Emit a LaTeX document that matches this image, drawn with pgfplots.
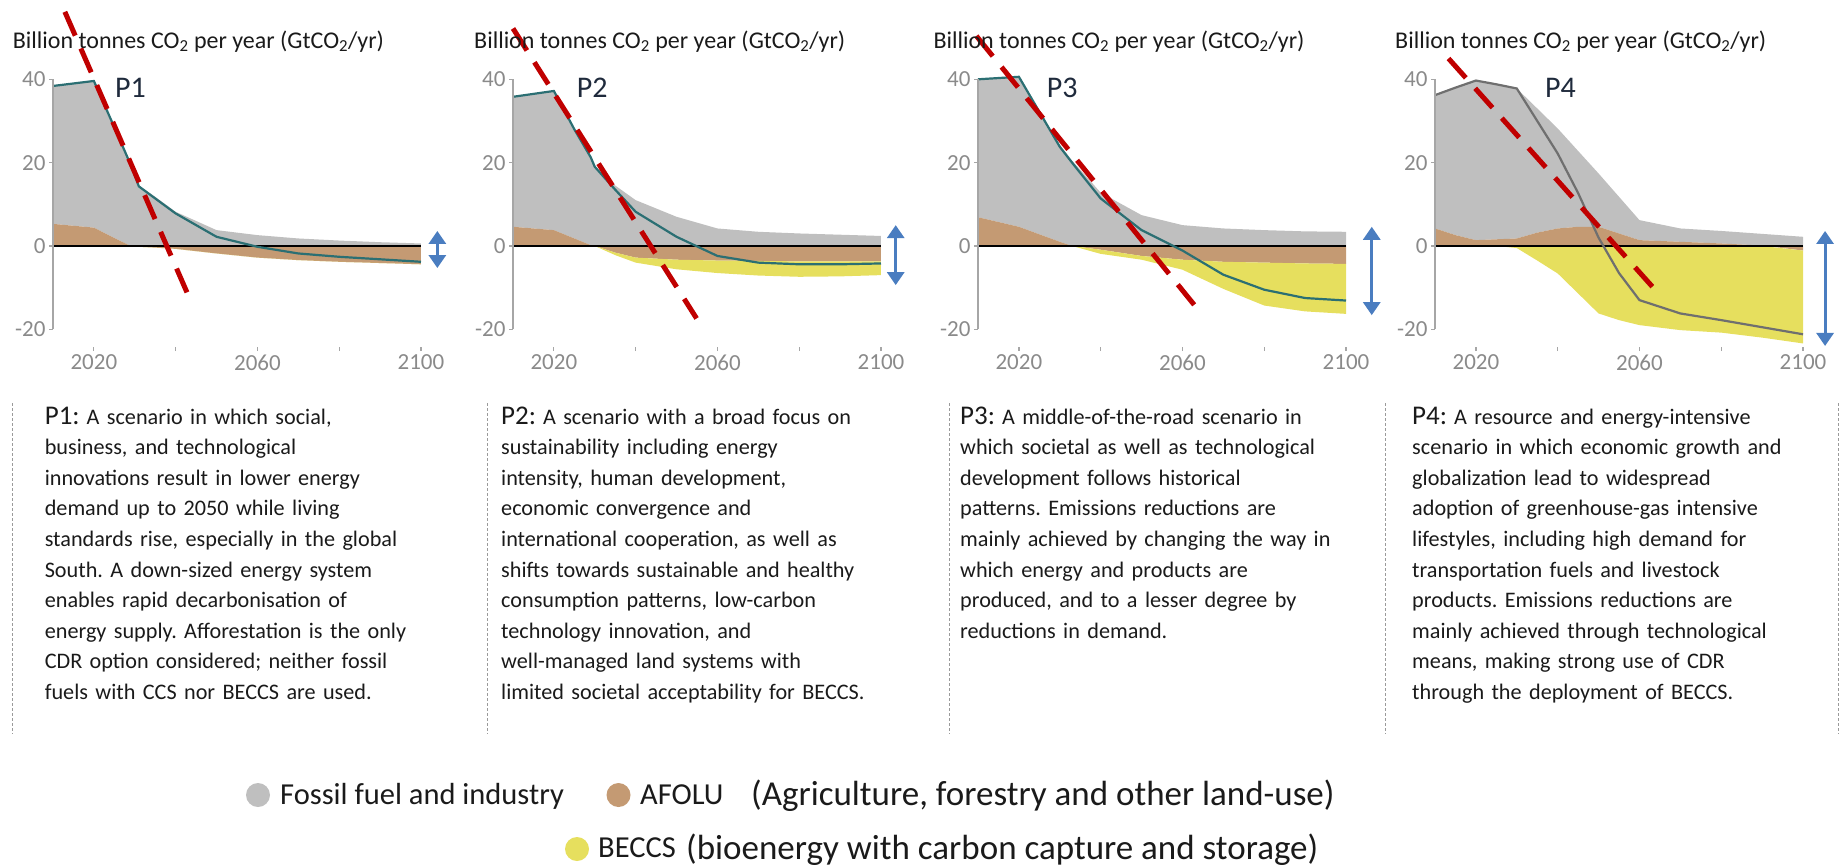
\documentclass[border=0pt]{standalone}
\usepackage{fontspec}
\setmainfont{Carlito}
\usepackage{pgfplots}
\pgfplotsset{compat=1.18}
\usepackage{pgfplotstable}
\usepgfplotslibrary{fillbetween}
\usetikzlibrary{arrows.meta}
\frenchspacing

\definecolor{cGray}{HTML}{BFBFBF}
\definecolor{cBrown}{HTML}{C49A73}
\definecolor{cYel}{HTML}{E6DF5E}
\definecolor{cTeal}{HTML}{2B6F73}
\definecolor{cNetGray}{HTML}{6F6F6F}
\definecolor{cRed}{HTML}{C00000}
\definecolor{cBlue}{HTML}{4A7DC0}
\definecolor{cTick}{HTML}{8A8A8A}
\definecolor{cAxis}{HTML}{A6A6A6}
\definecolor{cNavy}{HTML}{1F2A3C}
\definecolor{cText}{HTML}{1A1A1A}
\definecolor{cSep}{HTML}{9A9A9A}

% columns: year, top of grey area, AFOLU, bottom of BECCS, net emissions
\pgfplotstableread{
yr   top   af    bc    net
2010 38.4  5.3   0     38.4
2020 39.6  4.4   0     39.6
2025 28.5  1.9   0     28.5
2029 19.5  0     0     19.5
2031 14.5  -0.2  -0.2  14.3
2035 11.8  -0.4  -0.4  11.4
2040 8.2   -0.7  -0.7  7.8
2050 3.8   -1.8  -1.8  2.2
2060 2.6   -2.8  -2.8  -0.2
2070 1.8   -3.4  -3.4  -1.8
2080 1.3   -3.8  -3.8  -2.6
2090 0.9   -4.1  -4.1  -3.2
2100 0.6   -4.4  -4.4  -3.8
}\Pone

\pgfplotstableread{
yr   top   af    bc    net
2010 35.8  4.6   0     35.8
2020 37.2  3.8   0     37.2
2025 28.0  1.8   0     28.0
2029 21.5  0.2   0     21.3
2030 19.2  0     0     19.0
2035 14.5  -1.6  -2.2  13.5
2040 11.0  -2.8  -4.0  8.2
2050 7.0   -3.3  -5.6  2.2
2060 4.2   -3.5  -6.5  -2.4
2070 3.4   -3.6  -7.1  -4.0
2080 3.0   -3.7  -7.4  -4.4
2090 2.7   -3.7  -7.3  -4.4
2100 2.4   -3.7  -7.0  -4.2
}\Ptwo

\pgfplotstableread{
yr   top   af    bc     net
2010 40.0  6.9   0      40.0
2020 40.6  4.6   0      40.6
2025 32.5  2.8   0      32.2
2030 24.3  1.0   0      23.8
2033 20.5  0     0      20.0
2040 12.8  -0.9  -1.9   11.4
2050 7.4   -2.4  -3.3   3.8
2060 5.0   -3.3  -5.7   -1.1
2070 4.2   -3.8  -10.3  -6.9
2080 3.8   -4.0  -14.3  -10.5
2090 3.5   -4.2  -15.7  -12.5
2100 3.4   -4.3  -16.3  -13.1
}\Pthree

\pgfplotstableread{
yr   top   af    bc     net
2010 36.2  4.2   0      36.2
2015 38.0  2.6   0      38.0
2020 39.7  1.4   0      39.7
2025 38.8  1.6   0      38.8
2030 37.8  1.8   -0.5   37.8
2035 33.0  3.2   -3.5   30.0
2040 28.2  4.2   -6.6   22.2
2045 22.8  4.6   -11.4  12.7
2050 17.4  4.6   -16.2  2.0
2055 11.8  3.0   -17.8  -6.5
2060 6.2   1.4   -19.0  -13.0
2070 4.2   1.0   -20.2  -16.2
2080 3.6   0.6   -20.8  -17.8
2090 2.9   0.1   -22.0  -19.5
2100 2.2   -1.1  -23.4  -21.2
}\Pfour

\newcommand{\drawareas}[2]{%
 \addplot[draw=none, name path=T] table[x=yr,y=top]{#1};
 \addplot[draw=none, name path=L] table[x=yr,y expr={max(\thisrow{af},0)}]{#1};
 \addplot[draw=none, name path=A] table[x=yr,y=af]{#1};
 \addplot[draw=none, name path=M] table[x=yr,y expr={min(\thisrow{af},0)}]{#1};
 \addplot[draw=none, name path=B] table[x=yr,y=bc]{#1};
 \addplot[draw=none, name path=Z] table[x=yr,y expr=0]{#1};
 \addplot[fill=cGray, draw=none] fill between[of=T and L];
 \addplot[fill=cBrown, draw=none] fill between[of=A and Z];
 \addplot[fill=cYel, draw=none] fill between[of=M and B];
 \addplot[black, line width=1.5pt] table[x=yr,y expr=0]{#1};
 \addplot[#2, line width=2.2pt] table[x=yr,y=net]{#1};
 \draw[cAxis, line width=1.5pt] (axis cs:2010,-20) -- (axis cs:2010,40);
}

\pgfplotsset{panel/.style={
  scale only axis, width=368pt, height=267.9pt,
  xmin=2010, xmax=2100, ymin=-24.3, ymax=40,
  anchor=south west,
  axis lines*=left, axis line style={draw=none},
  clip=false,
  xtick={2020,2040,2060,2080,2100}, xticklabels={2020,,2060,,2100},
  ytick={-20,0,20,40},
  tick align=outside, major tick length=4pt,
  tick style={cAxis, line width=1.2pt},
  tick label style={font=\fontsize{23}{23}\selectfont, text=cTick},
  /pgf/number format/assume math mode=true,
}}
\tikzset{barrow/.style={cBlue, line width=3pt, {Triangle[width=17pt,length=13pt]}-{Triangle[width=17pt,length=13pt]}}}

\begin{document}
\begin{tikzpicture}

% ---------- P1
\begin{axis}[panel, at={(53pt,-347.2pt)}]
 \drawareas{\Pone}{cTeal}
 \addplot[cRed, line width=5pt, dash pattern=on 26pt off 14pt] coordinates {(2012.9,56.2) (2043.9,-13.7)};
 \draw[barrow] (axis cs:2104,3.6) -- (axis cs:2104,-5.3);
\end{axis}

% ---------- P2
\begin{axis}[panel, at={(513pt,-347.2pt)}]
 \drawareas{\Ptwo}{cTeal}
 \addplot[cRed, line width=5pt, dash pattern=on 26pt off 14pt] coordinates {(2010.0,52.2) (2054.9,-17.4)};
 \draw[barrow] (axis cs:2103.6,5.0) -- (axis cs:2103.6,-9.4);
\end{axis}

% ---------- P3
\begin{axis}[panel, at={(978pt,-347.2pt)}]
 \drawareas{\Pthree}{cTeal}
 \addplot[cRed, line width=5pt, dash pattern=on 26pt off 14pt] coordinates {(2009.6,50.4) (2064.5,-16.1)};
 \draw[barrow] (axis cs:2106.3,4.6) -- (axis cs:2106.3,-16.6);
\end{axis}

% ---------- P4
\begin{axis}[panel, at={(1435pt,-347.2pt)}]
 \drawareas{\Pfour}{cNetGray}
 \addplot[cRed, line width=5pt, dash pattern=on 26pt off 14pt] coordinates {(2013.3,45.0) (2065.0,-11.8)};
 \draw[barrow] (axis cs:2105.4,3.6) -- (axis cs:2105.4,-24);
\end{axis}

% ---------- titles
\foreach \xx in {12.7,474,933.3,1395}{
 \node[anchor=base west, inner sep=0, text=cText, font=\fontsize{24}{24}\selectfont] at (\xx pt,-48pt) {Billion tonnes CO\textsubscript{2} per year (GtCO\textsubscript{2}/yr)};
}
\node[anchor=base west, inner sep=0, text=cNavy, font=\fontsize{30}{30}\selectfont] at (115pt,-97pt) {P1};
\node[anchor=base west, inner sep=0, text=cNavy, font=\fontsize{30}{30}\selectfont] at (576.7pt,-97pt) {P2};
\node[anchor=base west, inner sep=0, text=cNavy, font=\fontsize{30}{30}\selectfont] at (1046.7pt,-97pt) {P3};
\node[anchor=base west, inner sep=0, text=cNavy, font=\fontsize{30}{30}\selectfont] at (1545pt,-97pt) {P4};

% ---------- separators
\foreach \xx in {12,487,949,1385,1838}{
 \draw[cSep, line width=1pt, dash pattern=on 3pt off 2pt] (\xx pt,-403pt) -- (\xx pt,-734pt);
}

% ---------- descriptions
\tikzset{desc/.style={anchor=base west, inner sep=0, align=left, text width=430pt, text=cText, font=\fontsize{22.2}{30.6}\selectfont}}
\newcommand{\Ptag}[1]{{\fontsize{27}{30}\selectfont #1}\hspace{7pt}}
\node[desc] at (44.6pt,-424pt) {\Ptag{P1:}A scenario in which social,\\
business, and technological\\
innovations result in lower energy\\
demand up to 2050 while living\\
standards rise, especially in the global\\
South. A down-sized energy system\\
enables rapid decarbonisation of\\
energy supply. Afforestation is the only\\
CDR option considered; neither fossil\\
fuels with CCS nor BECCS are used.};
\node[desc] at (501pt,-424pt) {\Ptag{P2:}A scenario with a broad focus on\\
sustainability including energy\\
intensity, human development,\\
economic convergence and\\
international cooperation, as well as\\
shifts towards sustainable and healthy\\
consumption patterns, low-carbon\\
technology innovation, and\\
well-managed land systems with\\
limited societal acceptability for BECCS.};
\node[desc] at (960pt,-424pt) {\Ptag{P3:}A middle-of-the-road scenario in\\
which societal as well as technological\\
development follows historical\\
patterns. Emissions reductions are\\
mainly achieved by changing the way in\\
which energy and products are\\
produced, and to a lesser degree by\\
reductions in demand.};
\node[desc] at (1412pt,-424pt) {\Ptag{P4:}A resource and energy-intensive\\
scenario in which economic growth and\\
globalization lead to widespread\\
adoption of greenhouse-gas intensive\\
lifestyles, including high demand for\\
transportation fuels and livestock\\
products. Emissions reductions are\\
mainly achieved through technological\\
means, making strong use of CDR\\
through the deployment of BECCS.};

% ---------- legend
\fill[cGray] (258pt,-795pt) circle [radius=12pt];
\node[anchor=base west, inner sep=0, text=cText, font=\fontsize{30.5}{30}\selectfont] at (280pt,-804pt) {Fossil fuel and industry};
\fill[cBrown] (618.5pt,-795pt) circle [radius=12pt];
\node[anchor=base west, inner sep=0, text=cText, font=\fontsize{30.5}{30}\selectfont] at (640pt,-804pt) {AFOLU};
\node[anchor=base west, inner sep=0, text=cText, font=\fontsize{35}{35}\selectfont] at (751pt,-805pt) {(Agriculture, forestry and other land-use)};
\fill[cYel] (577pt,-849pt) circle [radius=12pt];
\node[anchor=base west, inner sep=0, text=cText, font=\fontsize{30.5}{30}\selectfont] at (598pt,-857pt) {BECCS};
\node[anchor=base west, inner sep=0, text=cText, font=\fontsize{35}{35}\selectfont] at (686pt,-859pt) {(bioenergy with carbon capture and storage)};

\pgfresetboundingbox
\path[use as bounding box] (0,0) rectangle (1841pt,-865pt);
\end{tikzpicture}
\end{document}
